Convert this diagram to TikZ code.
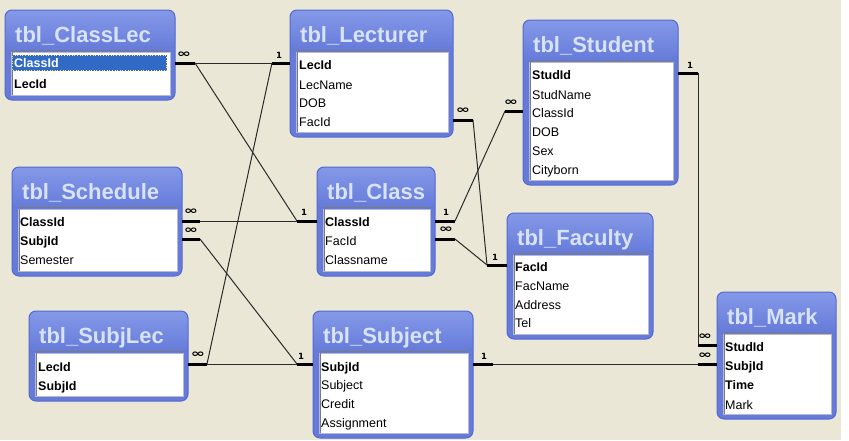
\documentclass[tikz,border=0pt]{standalone}
\usepackage{graphicx}
\usepackage{fontspec}
\setmainfont{Liberation Sans}
\newfontfamily\symfont{DejaVu Sans}
\definecolor{bg}{HTML}{EAE7D7}
\definecolor{framebl}{HTML}{667BD9}
\definecolor{frametop}{HTML}{8499E8}
\definecolor{frameedge}{HTML}{5569CF}
\definecolor{titlefg}{HTML}{D8E2F8}
\definecolor{selbl}{HTML}{316AC5}
\definecolor{linkc}{HTML}{2A2A2A}
\definecolor{boxedge}{HTML}{B4BAD8}
\definecolor{boxinner}{HTML}{7A7A80}
\tikzset{
  titletext/.style={font=\bfseries\fontsize{22}{22}\selectfont, text=titlefg, inner sep=0pt},
  fld/.style={font=\fontsize{12.5}{13}\selectfont, inner sep=0pt, text=black},
  keyfld/.style={font=\bfseries\fontsize{12.5}{13}\selectfont, inner sep=0pt, text=black},
  listbox/.style={draw=boxedge, line width=1.4pt, fill=white, inner sep=0pt, anchor=north west},
  stub/.style={line width=3pt, black},
  link/.style={line width=1pt, linkc},
  many/.style={font=\symfont\bfseries\fontsize{11}{11}\selectfont, inner sep=0pt},
  one/.style={font=\symfont\bfseries\fontsize{8.5}{8.5}\selectfont, inner sep=0pt},
}
% #1 name, #2 x1, #3 y1, #4 x2, #5 y2, #6 title
\newcommand{\dbtable}[6]{%
  \fill[framebl, rounded corners=7pt] (#2,#3) rectangle (#4,#5);
  \shade[top color=frametop, bottom color=framebl, rounded corners=7pt] (#2,#3) rectangle (#4,#3+40);
  \draw[frameedge, line width=1pt, rounded corners=7pt] (#2,#3) rectangle (#4,#5);
  \node[titletext, anchor=base west] (#1-title) at (#2+10,#3+32) {#6};
  \node[listbox, minimum width={#4-#2-11}, minimum height={#5-#3-47}] (#1) at (#2+5.5,#3+42) {};
  \draw[boxinner, line width=0.8pt] ([shift={(1.5,-1.5)}]#1.south west) |- ([shift={(-1.5,-1.5)}]#1.north east);
}
% #1 node name, #2 x, #3 y, #4 style, #5 text
\newcommand{\dbfield}[5]{%
  \node[#4, anchor=base west] (#1) at (#2,#3+4.5) {#5};
}
\newcommand{\manysym}{\scalebox{1.55}[1]{∞}}
\begin{document}
\begin{tikzpicture}[x=1pt,y=-1pt]
\useasboundingbox (0,0) rectangle (849,440);
\fill[white] (0,0) rectangle (849,440);
\fill[bg] (0,0) rectangle (841,440);

% ---------- tables ----------
\dbtable{classlec}{5}{10}{175}{100}{tbl\_ClassLec}
\fill[selbl] (12,55) rectangle (167,71);
\draw[yellow!70!white, dotted, line width=0.6pt] (12.5,55.5) rectangle (166.5,70.5);
\dbfield{classlec-classid}{14}{63}{keyfld,text=white}{ClassId}
\dbfield{classlec-lecid}{14}{84}{keyfld}{LecId}

\dbtable{lecturer}{290}{10}{453}{137}{tbl\_Lecturer}
\dbfield{lecturer-lecid}{299}{65}{keyfld}{LecId}
\dbfield{lecturer-lecname}{299}{85}{fld}{LecName}
\dbfield{lecturer-dob}{299}{103}{fld}{DOB}
\dbfield{lecturer-facid}{299}{122}{fld}{FacId}

\dbtable{student}{523}{20}{678}{185}{tbl\_Student}
\dbfield{student-studid}{532}{75}{keyfld}{StudId}
\dbfield{student-studname}{532}{95}{fld}{StudName}
\dbfield{student-classid}{532}{113}{fld}{ClassId}
\dbfield{student-dob}{532}{132}{fld}{DOB}
\dbfield{student-sex}{532}{151}{fld}{Sex}
\dbfield{student-cityborn}{532}{170}{fld}{Cityborn}

\dbtable{schedule}{12}{167}{182}{276}{tbl\_Schedule}
\dbfield{schedule-classid}{20}{222}{keyfld}{ClassId}
\dbfield{schedule-subjid}{20}{241}{keyfld}{SubjId}
\dbfield{schedule-semester}{20}{260}{fld}{Semester}

\dbtable{class}{317}{167}{435}{276}{tbl\_Class}
\dbfield{class-classid}{325}{222}{keyfld}{ClassId}
\dbfield{class-facid}{325}{241}{fld}{FacId}
\dbfield{class-classname}{325}{260}{fld}{Classname}

\dbtable{faculty}{507}{213}{653}{339}{tbl\_Faculty}
\dbfield{faculty-facid}{515}{267}{keyfld}{FacId}
\dbfield{faculty-facname}{515}{286}{fld}{FacName}
\dbfield{faculty-address}{515}{305}{fld}{Address}
\dbfield{faculty-tel}{515}{323}{fld}{Tel}

\dbtable{subjlec}{29}{311}{188}{401}{tbl\_SubjLec}
\dbfield{subjlec-lecid}{38}{367}{keyfld}{LecId}
\dbfield{subjlec-subjid}{38}{386}{keyfld}{SubjId}

\dbtable{subject}{313}{311}{473}{438}{tbl\_Subject}
\dbfield{subject-subjid}{321}{367}{keyfld}{SubjId}
\dbfield{subject-subject}{321}{385}{fld}{Subject}
\dbfield{subject-credit}{321}{404}{fld}{Credit}
\dbfield{subject-assignment}{321}{423}{fld}{Assignment}

\dbtable{mark}{717}{292}{836}{419}{tbl\_Mark}
\dbfield{mark-studid}{725}{347}{keyfld}{StudId}
\dbfield{mark-subjid}{725}{366}{keyfld}{SubjId}
\dbfield{mark-time}{725}{385}{keyfld}{Time}
\dbfield{mark-mark}{725}{405}{fld}{Mark}

% ---------- join points ----------
\coordinate (cl-a) at (175,63);   \coordinate (cl-b) at (195,63);
\coordinate (le-a) at (290,63);   \coordinate (le-b) at (272,63);
\coordinate (le2-a) at (453,120); \coordinate (le2-b) at (473,120);
\coordinate (st-a) at (523,111);  \coordinate (st-b) at (505,111);
\coordinate (st2-a) at (678,73);  \coordinate (st2-b) at (698,73);
\coordinate (sc1-a) at (182,221); \coordinate (sc1-b) at (200,221);
\coordinate (sc2-a) at (182,239); \coordinate (sc2-b) at (200,239);
\coordinate (c1-a) at (317,221);  \coordinate (c1-b) at (297,221);
\coordinate (c2-a) at (435,221);  \coordinate (c2-b) at (455,221);
\coordinate (c3-a) at (435,239);  \coordinate (c3-b) at (455,239);
\coordinate (fa-a) at (507,265);  \coordinate (fa-b) at (487,265);
\coordinate (sl-a) at (188,364);  \coordinate (sl-b) at (207,364);
\coordinate (su1-a) at (313,364); \coordinate (su1-b) at (297,364);
\coordinate (su2-a) at (473,364); \coordinate (su2-b) at (493,364);
\coordinate (mk1-a) at (717,345); \coordinate (mk1-b) at (698,345);
\coordinate (mk2-a) at (717,364); \coordinate (mk2-b) at (698,364);

% ---------- connector lines ----------
\draw[link] (cl-b) -- (le-b);
\draw[link] (cl-b) -- (c1-b);
\draw[link] (sl-b) -- (le-b);
\draw[link] (sl-b) -- (su1-b);
\draw[link] (sc1-b) -- (c1-b);
\draw[link] (sc2-b) -- (su1-b);
\draw[link] (le2-b) -- (fa-b);
\draw[link] (c3-b) -- (fa-b);
\draw[link] (c2-b) -- (st-b);
\draw[link] (st2-b) -- (mk1-b);
\draw[link] (su2-b) -- (mk2-b);

% ---------- stubs ----------
\foreach \s in {cl,le,le2,st,st2,sc1,sc2,c1,c2,c3,fa,sl,su1,su2,mk1,mk2}
  \draw[stub] (\s-a) -- (\s-b);

% ---------- cardinality labels ----------
\node[many] (lab-cl)  at (184,55)  {\manysym};
\node[one]  (lab-le)  at (279,55)  {1};
\node[many] (lab-le2) at (463,111) {\manysym};
\node[many] (lab-st)  at (511,103) {\manysym};
\node[one]  (lab-st2) at (690,65)  {1};
\node[many] (lab-sc1) at (191,212) {\manysym};
\node[many] (lab-sc2) at (191,231) {\manysym};
\node[one]  (lab-c1)  at (304,212) {1};
\node[one]  (lab-c2)  at (446,212) {1};
\node[many] (lab-c3)  at (446,230) {\manysym};
\node[one]  (lab-fa)  at (495,257) {1};
\node[many] (lab-sl)  at (198,355) {\manysym};
\node[one]  (lab-su1) at (301,356) {1};
\node[one]  (lab-su2) at (484,356) {1};
\node[many] (lab-mk1) at (705,337) {\manysym};
\node[many] (lab-mk2) at (705,356) {\manysym};
\end{tikzpicture}
\end{document}
